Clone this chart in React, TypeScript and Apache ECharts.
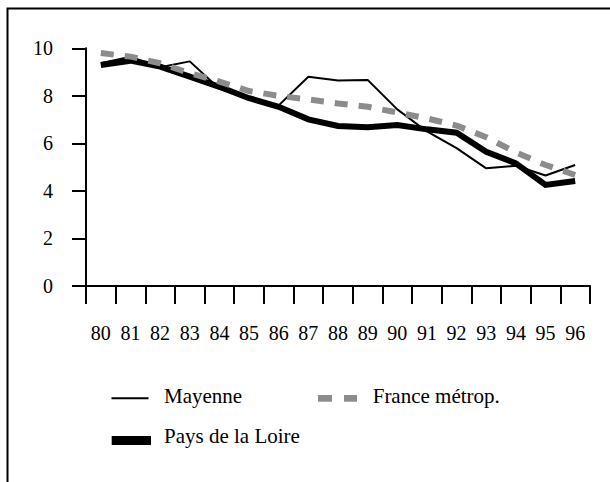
import React, { useEffect, useRef } from "react";
import * as echarts from "echarts";

const years = ["80", "81", "82", "83", "84", "85", "86", "87", "88", "89", "90", "91", "92", "93", "94", "95", "96"];
const mayenne = [9.37, 9.65, 9.2, 9.45, 8.3, 7.9, 7.6, 8.8, 8.65, 8.67, 7.43, 6.5, 5.8, 4.95, 5.06, 4.65, 5.09];
const franceMetrop = [9.8, 9.65, 9.37, 8.95, 8.6, 8.2, 8.0, 7.85, 7.68, 7.54, 7.3, 7.05, 6.75, 6.26, 5.62, 5.09, 4.67];
const paysDeLaLoire = [9.3, 9.48, 9.23, 8.81, 8.38, 7.9, 7.54, 7.01, 6.73, 6.68, 6.77, 6.59, 6.45, 5.65, 5.16, 4.25, 4.42];
const yTicks = [0, 2, 4, 6, 8, 10];

const FONT = "Liberation Serif";
const GRAY = "#8c8c8c";

export default function App() {
  const ref = useRef<HTMLDivElement>(null);
  useEffect(() => {
    if (!ref.current) return;
    const chart = echarts.init(ref.current, null, { renderer: "svg" });
    const legendText = (text: string, x: number, y: number) => ({
      type: "text",
      x,
      y,
      style: {
        text,
        fontFamily: FONT,
        fontSize: 21,
        fill: "#000",
        verticalAlign: "middle",
        align: "left",
      },
    });
    chart.setOption({
      animation: false,
      backgroundColor: "#ffffff",
      textStyle: { fontFamily: FONT },
      grid: { left: 86, right: 20, top: 48.3, bottom: 196, containLabel: false },
      xAxis: {
        type: "category",
        data: years,
        boundaryGap: true,
        axisLine: { show: true, lineStyle: { color: "#000", width: 2 } },
        axisTick: { show: true, length: 18, lineStyle: { color: "#000", width: 2 } },
        axisLabel: { color: "#000", fontFamily: FONT, fontSize: 20, margin: 37 },
        splitLine: { show: false },
      },
      yAxis: {
        type: "value",
        min: yTicks[0],
        max: yTicks[yTicks.length - 1],
        interval: 2,
        axisLine: { show: true, lineStyle: { color: "#000", width: 2 } },
        axisTick: { show: true, length: 14, lineStyle: { color: "#000", width: 2 } },
        axisLabel: { color: "#000", fontFamily: FONT, fontSize: 20, margin: 33 },
        splitLine: { show: false },
      },
      series: [
        {
          name: "Pays de la Loire",
          type: "line",
          data: paysDeLaLoire,
          symbol: "none",
          lineStyle: { color: "#000", width: 6, join: "miter" },
        },
        {
          name: "Mayenne",
          type: "line",
          data: mayenne,
          symbol: "none",
          lineStyle: { color: "#000", width: 2 },
        },
        {
          name: "France métrop.",
          type: "line",
          data: franceMetrop,
          symbol: "none",
          lineStyle: { color: GRAY, width: 6, type: [13, 11], cap: "butt" },
        },
      ],
      graphic: [
        {
          type: "rect",
          shape: { x: 7.5, y: 8.5, width: 700, height: 600 },
          style: { fill: "none", stroke: "#000", lineWidth: 2 },
          silent: true,
        },
        {
          type: "line",
          shape: { x1: 111.5, y1: 398.3, x2: 148.5, y2: 398.3 },
          style: { stroke: "#000", lineWidth: 2 },
        },
        legendText("Mayenne", 164, 396),
        {
          type: "rect",
          shape: { x: 318, y: 395, width: 14, height: 6.7 },
          style: { fill: GRAY },
        },
        {
          type: "rect",
          shape: { x: 344, y: 395, width: 13, height: 6.7 },
          style: { fill: GRAY },
        },
        legendText("France métrop.", 372.7, 396),
        {
          type: "rect",
          shape: { x: 111.7, y: 436, width: 39.3, height: 9 },
          style: { fill: "#000" },
        },
        legendText("Pays de la Loire", 164, 435.5),
      ],
    });
    return () => chart.dispose();
  }, []);
  return (
    <div
      ref={ref}
      style={{ position: "fixed", left: 0, top: 0, width: 610, height: 482, background: "#fff" }}
    />
  );
}
